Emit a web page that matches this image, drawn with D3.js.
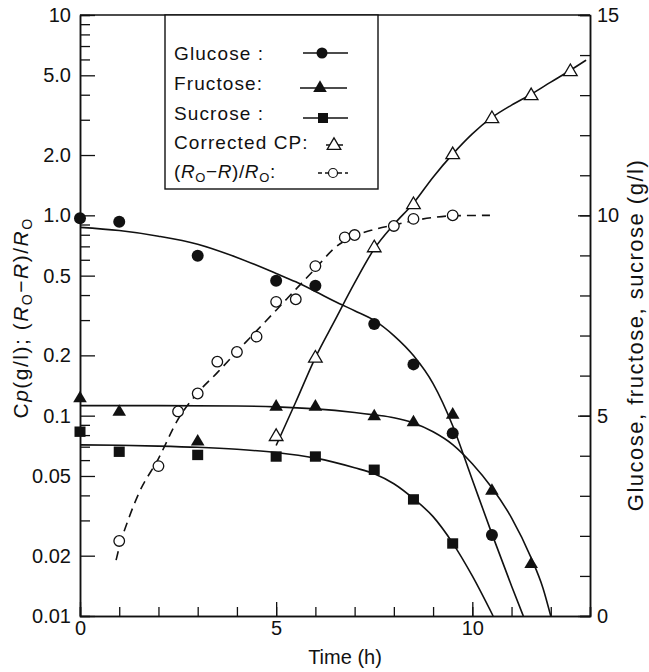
<!DOCTYPE html>
<html>
<head>
<meta charset="utf-8">
<script src="https://cdn.jsdelivr.net/npm/d3@7"></script>
<style>
  html, body { margin: 0; padding: 0; background: #fff; }
  svg { display: block; }
  text { font-family: "Liberation Sans", Arial, Helvetica, sans-serif; fill: #111; }
</style>
</head>
<body>
<svg id="chart" width="649" height="672"></svg>
<script>
// ---------------- DATA ----------------
// measured points (right axis, g/l)
const glucoseT = [0, 1, 3, 5, 6, 7.5, 8.5, 9.5, 10.5];
const glucoseV = [9.93, 9.84, 8.99, 8.37, 8.24, 7.29, 6.28, 4.56, 2.02];
const fructoseT = [0, 1, 3, 5, 6, 7.5, 8.5, 9.5, 10.5, 11.5];
const fructoseV = [5.47, 5.13, 4.39, 5.26, 5.26, 5.02, 4.87, 5.06, 3.16, 1.33];
const sucroseT = [0, 1, 3, 5, 6, 7.5, 8.5, 9.5];
const sucroseV = [4.6, 4.1, 4.02, 3.98, 3.98, 3.65, 2.91, 1.81];
// measured points (left log axis)
const cpT = [5, 6, 7.5, 8.5, 9.5, 10.5, 11.5, 12.5];
const cpV = [0.08, 0.197, 0.70, 1.15, 2.04, 3.09, 4.02, 5.3];
const ratioT = [1, 2, 2.5, 3, 3.5, 4, 4.5, 5, 5.5, 6, 6.75, 7, 8, 8.5, 9.5];
const ratioV = [0.0237, 0.056, 0.105, 0.129, 0.186, 0.208, 0.248, 0.37, 0.381, 0.558, 0.776, 0.797, 0.885, 0.96, 1.0];

// fitted curves [t, value]
const glucoseFit = [[0,9.7],[1,9.62],[2,9.48],[3,9.28],[4,8.95],[5,8.55],[5.5,8.34],[6,8.1],[6.5,7.85],[7,7.62],[7.5,7.38],[8,7.0],[8.5,6.5],[9,5.8],[9.5,4.75],[10,3.4],[10.5,2.05],[11,0.75],[11.3,0]];
const fructoseFit = [[0,5.25],[2,5.25],[4,5.24],[5,5.22],[6,5.17],[7,5.08],[7.5,5.02],[8,4.95],[8.5,4.82],[9,4.6],[9.5,4.28],[10,3.8],[10.5,3.2],[11,2.45],[11.5,1.45],[11.8,0.7],[12,0]];
const sucroseFit = [[0,4.27],[1,4.26],[2,4.24],[3,4.21],[4,4.16],[5,4.08],[6,3.94],[7,3.7],[7.5,3.55],[8,3.3],[8.5,2.93],[9,2.48],[9.5,1.82],[10,1.0],[10.53,0]];
const cpFit = [[5,0.071],[5.5,0.117],[6,0.195],[6.5,0.30],[7,0.46],[7.5,0.68],[8,0.9],[8.5,1.15],[9,1.55],[9.5,2.02],[10,2.55],[10.5,3.08],[11,3.55],[11.5,4.02],[12,4.62],[12.5,5.3],[12.9,5.95]];
const ratioFit = [[0.92,0.019],[1,0.022],[1.25,0.031],[1.5,0.041],[2,0.061],[2.5,0.096],[3,0.13],[3.5,0.164],[4,0.209],[4.5,0.265],[5,0.336],[5.5,0.427],[6,0.542],[6.5,0.69],[7,0.79],[7.5,0.85],[8,0.895],[8.5,0.94],[9,0.975],[9.5,0.995],[10.45,1.0]];

// ticks
const leftTickValues = [0.01, 0.02, 0.05, 0.1, 0.2, 0.5, 1, 2, 5, 10];
const leftTickLabels = ["0.01", "0.02", "0.05", "0.1", "0.2", "0.5", "1.0", "2.0", "5.0", "10"];
const leftMinorMultipliers = [3, 4, 6, 7, 8, 9];
const leftDecades = [0.01, 0.1, 1];
const rightTickValues = [0, 5, 10, 15];
const rightTickLabels = ["0", "5", "10", "15"];
const rightMinorValues = d3.range(0, 16);
const bottomTickValues = [0, 5, 10];
const bottomTickLabels = ["0", "5", "10"];
const bottomMinorValues = d3.range(0, 14);

// ---------------- LAYOUT ----------------
const L = 80, R = 590, T = 15, B = 616;
const svg = d3.select("#chart");
const x = d3.scaleLinear().domain([0, 13]).range([L, R]);
const yL = d3.scaleLog().domain([0.01, 10]).range([B, T]);
const yR = d3.scaleLinear().domain([0, 15]).range([B, T]);

const axisStyle = g => {
  g.selectAll("path.domain").attr("stroke", "#111").attr("stroke-width", 1.5);
  g.selectAll(".tick line").attr("stroke", "#111").attr("stroke-width", 1.3);
  g.selectAll(".tick text").style("font-size", "20px").attr("fill", "#111")
    .style("font-family", '"Liberation Sans", Arial, sans-serif');
};

// left axis: minor ticks
const leftMinor = [];
leftDecades.forEach(d => leftMinorMultipliers.forEach(m => leftMinor.push(d * m)));
svg.append("g").attr("transform", `translate(${L},0)`)
  .call(d3.axisLeft(yL).tickValues(leftMinor).tickSize(-10).tickFormat(""))
  .call(axisStyle);
svg.append("g").attr("transform", `translate(${L},0)`)
  .call(d3.axisLeft(yL).tickValues(leftTickValues).tickSizeInner(-15).tickSizeOuter(0).tickPadding(9)
    .tickFormat((d, i) => leftTickLabels[i]))
  .call(axisStyle);

// right axis
svg.append("g").attr("transform", `translate(${R},0)`)
  .call(d3.axisRight(yR).tickValues(rightMinorValues).tickSize(-10).tickFormat(""))
  .call(axisStyle);
svg.append("g").attr("transform", `translate(${R},0)`)
  .call(d3.axisRight(yR).tickValues(rightTickValues).tickSizeInner(-12).tickSizeOuter(0).tickPadding(7)
    .tickFormat((d, i) => rightTickLabels[i]))
  .call(axisStyle);

// bottom axis
svg.append("g").attr("transform", `translate(0,${B})`)
  .call(d3.axisBottom(x).tickValues(bottomMinorValues).tickSize(-9).tickFormat(""))
  .call(axisStyle);
svg.append("g").attr("transform", `translate(0,${B})`)
  .call(d3.axisBottom(x).tickValues(bottomTickValues).tickSizeInner(-14).tickSizeOuter(0).tickPadding(5)
    .tickFormat((d, i) => bottomTickLabels[i]))
  .call(axisStyle);

// top frame line
svg.append("line").attr("x1", L).attr("x2", R).attr("y1", T).attr("y2", T)
  .attr("stroke", "#111").attr("stroke-width", 1.5);

// ---------------- CURVES ----------------
const lineR = d3.line().x(d => x(d[0])).y(d => yR(d[1])).curve(d3.curveMonotoneX);
const lineL = d3.line().x(d => x(d[0])).y(d => yL(d[1])).curve(d3.curveMonotoneX);
const curveStyle = p => p.attr("fill", "none").attr("stroke", "#111").attr("stroke-width", 1.6);

svg.append("path").datum(glucoseFit).attr("d", lineR).call(curveStyle);
svg.append("path").datum(fructoseFit).attr("d", lineR).call(curveStyle);
svg.append("path").datum(sucroseFit).attr("d", lineR).call(curveStyle);
svg.append("path").datum(cpFit).attr("d", lineL).call(curveStyle);
svg.append("path").datum(ratioFit).attr("d", lineL).call(curveStyle).attr("stroke-dasharray", "9,6");

// ---------------- MARKERS ----------------
const triPath = "M0,-6.2L6.8,5.4L-6.8,5.4Z";
function dots(g, T, V, yScale, kind) {
  const data = T.map((t, i) => [t, V[i]]);
  const sel = g.selectAll(null).data(data).enter();
  if (kind === "circle") {
    sel.append("circle").attr("cx", d => x(d[0])).attr("cy", d => yScale(d[1])).attr("r", 6).attr("fill", "#111");
  } else if (kind === "ocircle") {
    sel.append("circle").attr("cx", d => x(d[0])).attr("cy", d => yScale(d[1])).attr("r", 5.3)
      .attr("fill", "#fff").attr("stroke", "#111").attr("stroke-width", 1.3);
  } else if (kind === "tri") {
    sel.append("path").attr("d", triPath).attr("transform", d => `translate(${x(d[0])},${yScale(d[1])})`).attr("fill", "#111");
  } else if (kind === "otri") {
    sel.append("path").attr("d", triPath).attr("transform", d => `translate(${x(d[0])},${yScale(d[1])})`)
      .attr("fill", "#fff").attr("stroke", "#111").attr("stroke-width", 1.3);
  } else if (kind === "square") {
    sel.append("rect").attr("x", d => x(d[0]) - 5.5).attr("y", d => yScale(d[1]) - 5.2)
      .attr("width", 11).attr("height", 10.4).attr("fill", "#111");
  }
}
const mg = svg.append("g");
dots(mg, ratioT, ratioV, yL, "ocircle");
dots(mg, cpT, cpV, yL, "otri");
dots(mg, glucoseT, glucoseV, yR, "circle");
dots(mg, fructoseT, fructoseV, yR, "tri");
dots(mg, sucroseT, sucroseV, yR, "square");

// ---------------- LEGEND ----------------
const lg = svg.append("g");
lg.append("rect").attr("x", 165).attr("y", 15).attr("width", 213).attr("height", 174)
  .attr("fill", "#fff").attr("stroke", "#111").attr("stroke-width", 1.4);
const legendText = (y) => lg.append("text").attr("x", 174).attr("y", y)
  .style("font-size", "19px").style("letter-spacing", "1.1px");
legendText(60).text("Glucose :");
legendText(90).text("Fructose:");
legendText(120).text("Sucrose :");
legendText(149).text("Corrected CP:");
const rt = legendText(178).style("letter-spacing", "0.6px");
rt.append("tspan").text("(");
rt.append("tspan").style("font-style", "italic").text("R");
rt.append("tspan").style("font-size", "13px").attr("dy", 4).text("O");
rt.append("tspan").attr("dy", -4).text("\u2212");
rt.append("tspan").style("font-style", "italic").text("R");
rt.append("tspan").text(")/");
rt.append("tspan").style("font-style", "italic").text("R");
rt.append("tspan").style("font-size", "13px").attr("dy", 4).text("O");
rt.append("tspan").attr("dy", -4).text(":");

const lline = (x1, x2, y, dash) => {
  const l = lg.append("line").attr("x1", x1).attr("x2", x2).attr("y1", y).attr("y2", y)
    .attr("stroke", "#111").attr("stroke-width", 1.5);
  if (dash) l.attr("stroke-dasharray", dash);
};
lline(303, 348, 53); lg.append("circle").attr("cx", 322).attr("cy", 53).attr("r", 5.5).attr("fill", "#111");
lline(300, 347, 88); lg.append("path").attr("d", triPath).attr("transform", "translate(320,86.5)").attr("fill", "#111");
lline(303, 348, 118); lg.append("rect").attr("x", 318).attr("y", 113).attr("width", 10).attr("height", 10).attr("fill", "#111");
lline(326, 343, 145); lg.append("path").attr("d", triPath).attr("transform", "translate(334,144)")
  .attr("fill", "#fff").attr("stroke", "#111").attr("stroke-width", 1.3);
lline(318, 328, 173, "4,3"); lline(338, 348, 173, "4,3");
lg.append("circle").attr("cx", 333).attr("cy", 173).attr("r", 4.5).attr("fill", "#fff").attr("stroke", "#111").attr("stroke-width", 1.2);

// ---------------- AXIS TITLES ----------------
const lt = svg.append("text").attr("transform", "translate(28,318) rotate(-90)")
  .attr("text-anchor", "middle").style("font-size", "21px").style("letter-spacing", "1.5px");
lt.append("tspan").text("C");
lt.append("tspan").style("font-style", "italic").text("p");
lt.append("tspan").text("(g/l); (");
lt.append("tspan").style("font-style", "italic").text("R");
lt.append("tspan").style("font-size", "14px").attr("dy", 4).text("O");
lt.append("tspan").attr("dy", -4).text("\u2212");
lt.append("tspan").style("font-style", "italic").text("R");
lt.append("tspan").text(")/");
lt.append("tspan").style("font-style", "italic").text("R");
lt.append("tspan").style("font-size", "14px").attr("dy", 4).text("O");

svg.append("text").attr("transform", "translate(643,335) rotate(-90)")
  .attr("text-anchor", "middle").style("font-size", "22px").style("letter-spacing", "1.5px")
  .text("Glucose, fructose, sucrose (g/l)");

svg.append("text").attr("x", 345).attr("y", 664).attr("text-anchor", "middle")
  .style("font-size", "20px").text("Time (h)");
</script>
</body>
</html>
